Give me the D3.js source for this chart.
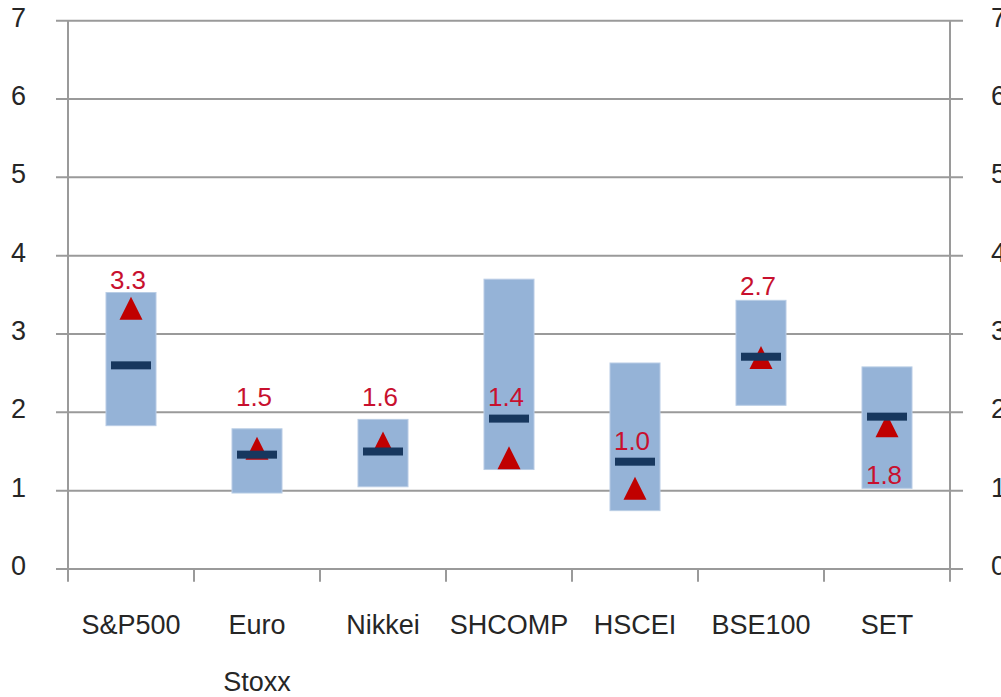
<!DOCTYPE html>
<html>
<head>
<meta charset="utf-8">
<script src="https://cdn.jsdelivr.net/npm/d3@7"></script>
<style>
  html, body { margin: 0; padding: 0; background: #fff; }
  svg { display: block; font-family: "Liberation Sans", Arial, sans-serif; }
</style>
</head>
<body>
<svg id="chart" width="1001" height="697"></svg>
<script>
// ---- data ----
const categories = [["S&P500"], ["Euro", "Stoxx"], ["Nikkei"], ["SHCOMP"], ["HSCEI"], ["BSE100"], ["SET"]];
const rangeHigh  = [3.53, 1.79, 1.91, 3.70, 2.63, 3.43, 2.58];
const rangeLow   = [1.83, 0.97, 1.05, 1.27, 0.745, 2.09, 1.03];
const medianVals = [2.60, 1.46, 1.50, 1.92, 1.37, 2.71, 1.945];
const currentVals = [3.33, 1.54, 1.61, 1.42, 1.03, 2.70, 1.83];
const currentLabels = ["3.3", "1.5", "1.6", "1.4", "1.0", "2.7", "1.8"];
const yTicks = [0, 1, 2, 3, 4, 5, 6, 7];

// label placement (pixel offsets of label baseline from the marker centre)
const labelOffsets = [-19, -42, -37, -52, -38, -63, 58];

(function () {
// ---- layout ----
const svg = d3.select("#chart");
const mLeft = 68, mRight = 950, mTop = 20.7, mBottom = 569;
const idx = d3.range(categories.length);

const x = d3.scaleBand().domain(idx).range([mLeft, mRight]).paddingInner(0).paddingOuter(0);
const y = d3.scaleLinear().domain([0, 7]).range([mBottom, mTop]);

const gridColor = "#9a9a9a";
const textColor = "#262626";

// gridlines
svg.append("g").selectAll("line").data(yTicks).join("line")
  .attr("x1", mLeft - 12).attr("x2", mRight + 13)
  .attr("y1", d => y(d)).attr("y2", d => y(d))
  .attr("stroke", gridColor).attr("stroke-width", 2);

// axes lines
[mLeft, mRight].forEach(xx => {
  svg.append("line").attr("x1", xx).attr("x2", xx)
    .attr("y1", mTop).attr("y2", mBottom + 12.7)
    .attr("stroke", gridColor).attr("stroke-width", 2);
});
// category boundary ticks
svg.append("g").selectAll("line").data(idx.slice(1)).join("line")
  .attr("x1", d => x(d)).attr("x2", d => x(d))
  .attr("y1", mBottom).attr("y2", mBottom + 12.7)
  .attr("stroke", gridColor).attr("stroke-width", 2);

// y tick labels (right-hand labels are clipped by the page edge, as in the reference)
svg.append("g").selectAll("text").data(yTicks).join("text")
  .attr("x", 26).attr("y", d => y(d) + 6)
  .attr("text-anchor", "end").attr("font-size", 27).attr("fill", textColor)
  .text(d => d);
svg.append("g").selectAll("text").data(yTicks).join("text")
  .attr("x", 991).attr("y", d => y(d) + 6)
  .attr("text-anchor", "start").attr("font-size", 27).attr("fill", textColor)
  .text(d => d);

// category labels
const cx = i => x(i) + x.bandwidth() / 2;
const catG = svg.append("g");
idx.forEach(i => {
  const t = catG.append("text").attr("text-anchor", "middle")
    .attr("font-size", 27).attr("fill", textColor);
  categories[i].forEach((line, k) => {
    t.append("tspan").attr("x", cx(i)).attr("y", 634 + k * 57).text(line);
  });
});

// range boxes
const boxW = x.bandwidth() * 0.397;
svg.append("g").selectAll("rect").data(idx).join("rect")
  .attr("x", i => cx(i) - boxW / 2).attr("width", boxW)
  .attr("y", i => y(rangeHigh[i]))
  .attr("height", i => y(rangeLow[i]) - y(rangeHigh[i]))
  .attr("fill", "#95b3d7").attr("stroke", "#b9cde5").attr("stroke-width", 1);

// triangles (current)
const triW = 23, triH = 23;
svg.append("g").selectAll("path").data(idx).join("path")
  .attr("d", i => {
    const px = cx(i), py = y(currentVals[i]);
    return `M${px},${py - triH / 2}L${px + triW / 2},${py + triH / 2}L${px - triW / 2},${py + triH / 2}Z`;
  })
  .attr("fill", "#c00000");

// median bars
const barW = 40, barH = 8;
svg.append("g").selectAll("rect").data(idx).join("rect")
  .attr("x", i => cx(i) - barW / 2).attr("width", barW)
  .attr("y", i => y(medianVals[i]) - barH / 2).attr("height", barH)
  .attr("fill", "#17375e");

// value labels
svg.append("g").selectAll("text").data(idx).join("text")
  .attr("x", i => cx(i) - 3)
  .attr("y", i => y(currentVals[i]) + labelOffsets[i])
  .attr("text-anchor", "middle").attr("font-size", 26).attr("fill", "#c8102e")
  .text(i => currentLabels[i]);
})();
</script>
</body>
</html>
